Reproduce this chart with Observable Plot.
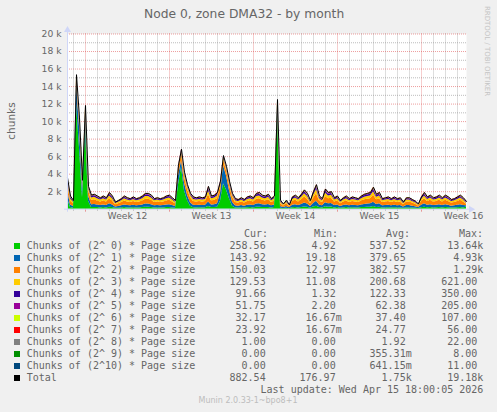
<!DOCTYPE html>
<html><head><meta charset="utf-8">
<script src="https://cdn.jsdelivr.net/npm/d3@7"></script>
<script src="https://cdn.jsdelivr.net/npm/@observablehq/plot@0.6"></script>
<style>
html,body{margin:0;padding:0;background:#f0f0f0;}
#page{position:relative;width:497px;height:412px;overflow:hidden;background:#f0f0f0;font-family:"DejaVu Sans",sans-serif;color:#666;}
.abs{position:absolute;white-space:pre;}
.mono{font-family:"DejaVu Sans Mono",monospace;font-size:10px;line-height:12px;}
#chart{position:absolute;left:0;top:0;}
</style></head><body><div id="page"><div id="chart"></div></div>
<script>
// ---- data: 6-hourly samples, 13 Mar 2026 12:00 UTC .. 15 Apr 2026 18:00 UTC ----
const chunks0 = [1200,180,120,12000,7000,1300,9200,900,190,200,
180,150,180,150,230,180,100,120,140,180,
150,140,170,140,150,180,220,220,190,140,
150,140,150,180,190,150,120,2800,4800,2100,
1000,350,170,150,170,150,170,310,180,190,
230,900,2900,2200,1200,350,140,130,150,130,
170,180,150,220,230,190,180,200,140,180,
10800,120,70,120,60,170,190,150,200,260,
220,120,240,340,180,140,280,230,240,150,
180,120,150,180,140,170,150,140,180,200,
220,230,300,200,230,140,150,170,140,170,
140,150,100,150,150,130,110,70,170,230,
170,190,150,170,190,150,190,170,130,140,
170,190,150,259];
const chunks1 = [1000,300,200,2300,2400,1000,1600,600,320,340,
300,260,300,260,380,300,160,200,240,300,
260,240,280,240,260,300,360,360,320,240,
260,240,260,300,320,260,200,1000,700,900,
600,400,280,260,280,260,280,520,300,320,
380,900,2100,1600,900,450,240,220,260,220,
280,300,260,360,380,320,300,340,240,300,
800,200,120,200,100,280,320,260,340,440,
360,200,400,560,300,240,460,380,400,260,
300,200,260,300,240,280,260,240,300,340,
360,380,500,340,380,240,260,280,240,280,
240,260,160,260,260,220,180,120,280,380,
280,320,260,280,320,260,320,280,220,240,
280,320,260,144];
const chunks2 = [800,470,310,500,500,500,550,600,500,530,
470,410,470,410,590,470,250,310,380,470,
410,380,440,380,410,470,560,560,500,380,
410,380,410,470,500,410,310,650,750,700,
650,550,440,410,440,410,440,810,470,500,
590,800,650,600,600,550,380,350,410,350,
440,470,410,560,590,500,470,530,380,470,
450,310,180,310,150,440,500,410,530,690,
560,310,620,870,470,380,720,590,620,410,
470,310,410,470,380,440,410,380,470,530,
560,590,780,530,590,380,410,440,380,440,
380,410,250,410,410,350,280,180,440,590,
440,500,410,440,500,410,500,440,350,380,
440,500,410,150];
const chunks3 = [300,250,170,250,250,250,250,280,270,290,
250,220,250,220,320,250,140,170,200,250,
220,200,230,200,220,250,300,300,270,200,
220,200,220,250,270,220,170,280,300,280,
300,280,230,220,230,220,230,440,250,270,
320,300,250,250,260,250,200,180,220,180,
230,250,220,300,320,270,250,290,200,250,
220,170,110,170,90,230,270,220,290,370,
300,170,340,470,250,200,380,320,340,220,
250,170,220,250,200,230,220,200,250,290,
300,320,420,290,320,200,220,230,200,230,
200,220,140,220,220,180,160,110,230,320,
230,270,220,230,270,220,270,230,180,200,
230,270,220,130];
const chunks4 = [150,150,100,130,120,120,110,120,160,170,
150,130,150,130,190,150,80,100,120,150,
130,120,140,120,130,150,180,180,160,120,
130,120,130,150,160,130,100,130,140,130,
130,130,140,130,140,130,140,260,150,160,
190,150,110,120,120,110,120,110,130,110,
140,150,130,180,190,160,150,170,120,150,
120,100,60,100,50,140,160,130,170,220,
180,100,200,280,150,120,230,190,200,130,
150,100,130,150,120,140,130,120,150,170,
180,190,250,170,190,120,130,140,120,140,
120,130,80,130,130,110,90,60,140,190,
140,160,130,140,160,130,160,140,110,120,
140,160,130,92];
const chunks5 = [80,75,50,70,60,60,55,60,80,85,
75,65,75,65,95,75,40,50,60,75,
65,60,70,60,65,75,90,90,80,60,
65,60,65,75,80,65,50,70,70,60,
60,60,70,65,70,65,70,130,75,80,
95,70,50,60,60,50,60,55,65,55,
70,75,65,90,95,80,75,85,60,75,
60,50,30,50,25,70,80,65,85,110,
90,50,100,140,75,60,115,95,100,65,
75,50,65,75,60,70,65,60,75,85,
90,95,125,85,95,60,65,70,60,70,
60,65,40,65,65,55,45,30,70,95,
70,80,65,70,80,65,80,70,55,60,
70,80,65,52];
const chunks6 = [40,45,30,40,35,40,35,30,48,50,
45,38,45,38,56,45,18,30,35,45,
38,35,40,35,38,45,53,53,48,35,
38,35,38,45,48,38,30,40,40,30,
35,30,40,38,40,38,40,78,45,48,
56,40,30,40,35,30,35,33,38,33,
40,45,38,53,56,48,45,50,35,45,
30,30,18,30,15,40,48,38,50,65,
53,30,60,84,45,35,68,56,60,38,
45,30,38,45,35,40,38,35,45,50,
53,56,75,50,56,35,38,40,35,40,
35,38,18,38,38,33,20,18,40,56,
40,48,38,40,48,38,48,40,33,35,
40,48,38,32];
const chunks7 = [30,30,20,25,25,25,20,20,32,35,
30,27,30,27,39,30,12,20,25,30,
27,25,30,25,27,30,37,37,32,25,
27,25,27,30,32,27,20,30,30,25,
25,20,30,27,30,27,30,52,30,32,
39,30,20,25,25,20,25,22,27,22,
30,30,27,37,39,32,30,35,25,30,
20,20,12,20,10,30,32,27,35,45,
37,20,40,56,30,25,47,39,40,27,
30,20,27,30,25,30,27,25,30,35,
37,39,50,35,39,25,27,30,25,30,
25,27,12,27,27,22,15,12,30,39,
30,32,27,30,32,27,32,30,22,25,
30,32,27,24];
const chunks8 = [4,2,1,22,15,6,12,3,2,2,
2,1,2,1,3,2,1,1,1,2,
1,1,2,1,1,2,3,3,2,1,
1,1,1,2,2,1,1,6,8,4,
3,2,1,1,2,1,1,4,2,2,
3,5,9,6,4,2,1,1,1,1,
2,2,1,3,3,2,2,2,1,2,
14,1,0,1,0,2,2,1,2,3,
2,1,3,4,2,1,3,2,3,1,
2,1,1,2,1,2,1,1,2,2,
2,3,4,2,3,1,1,2,1,2,
1,1,0,1,1,1,1,0,2,3,
2,2,1,2,2,1,2,2,1,1,
2,2,1,1];
const chunks9 = [0,0,0,8,4,1,5,1,0,0,
0,0,0,0,0,0,0,0,0,0,
0,0,0,0,0,0,0,0,0,0,
0,0,0,0,0,0,0,1,2,1,
0,0,0,0,0,0,0,0,0,0,
0,1,2,1,0,0,0,0,0,0,
0,0,0,0,0,0,0,0,0,0,
3,0,0,0,0,0,0,0,0,0,
0,0,0,0,0,0,0,0,0,0,
0,0,0,0,0,0,0,0,0,0,
0,0,0,0,0,0,0,0,0,0,
0,0,0,0,0,0,0,0,0,0,
0,0,0,0,0,0,0,0,0,0,
0,0,0,0];
const chunks10 = [1,0,0,11,6,1,4,1,0,0,
0,0,0,0,0,0,0,0,0,0,
0,0,0,0,0,0,0,0,0,0,
0,0,0,0,0,0,0,1,3,1,
0,0,0,0,0,0,0,0,0,0,
0,1,2,1,0,0,0,0,0,0,
0,0,0,0,0,0,0,0,0,0,
4,0,0,0,0,0,0,0,0,0,
0,0,0,0,0,0,0,0,0,0,
0,0,0,0,0,0,0,0,0,0,
0,0,0,0,0,0,0,0,0,0,
0,0,0,0,0,0,0,0,0,0,
0,0,0,0,0,0,0,0,0,0,
0,0,0,0];

const seriesNames = ["Chunks of (2^ 0) * Page size","Chunks of (2^ 1) * Page size","Chunks of (2^ 2) * Page size",
  "Chunks of (2^ 3) * Page size","Chunks of (2^ 4) * Page size","Chunks of (2^ 5) * Page size",
  "Chunks of (2^ 6) * Page size","Chunks of (2^ 7) * Page size","Chunks of (2^ 8) * Page size",
  "Chunks of (2^ 9) * Page size","Chunks of (2^10) * Page size"];
const seriesColors = ["#00CC00","#0066B3","#FF8000","#FFCC00","#330099","#990099","#CCFF00","#FF0000","#808080","#008F00","#00487D"];
const totalName = "Total";
const totalColor = "#000000";

const curText = ["258.56 ","143.92 ","150.03 ","129.53 "," 91.66 "," 51.75 "," 32.17 "," 23.92 ","  1.00 ","  0.00 ","  0.00 ","882.54 "];
const minText = ["  4.92 "," 19.18 "," 12.97 "," 11.08 ","  1.32 ","  2.20 "," 16.67m"," 16.67m","  0.00 ","  0.00 ","  0.00 ","176.97 "];
const avgText = ["537.52 ","379.65 ","382.57 ","200.68 ","122.33 "," 62.38 "," 37.40 "," 24.77 ","  1.92 ","355.31m","641.15m","  1.75k"];
const maxText = [" 13.64k","  4.93k","  1.29k","621.00 ","350.00 ","205.00 ","107.00 "," 56.00 "," 22.00 ","  8.00 "," 11.00 "," 19.18k"];
const headerText = ["Cur:","Min:","Avg:","Max:"];

const yTicks = [2000,4000,6000,8000,10000,12000,14000,16000,18000,20000];
const yMinor = [1000,3000,5000,7000,9000,11000,13000,15000,17000,19000];
const weekLabels = ["Week 12","Week 13","Week 14","Week 15","Week 16"];

const titleText = "Node 0, zone DMA32 - by month";
const yLabelText = "chunks";
const lastUpdateText = "Last update: Wed Apr 15 18:00:05 2026";
const versionText = "Munin 2.0.33-1~bpo8+1";
const creditText = "RRDTOOL / TOBI OETIKER";

// ---- build ----
const seriesValues = [chunks0,chunks1,chunks2,chunks3,chunks4,chunks5,chunks6,chunks7,chunks8,chunks9,chunks10];
const T0 = Date.UTC(2026, 2, 13, 12);
const STEP = 6 * 3600e3;
const DAY = 864e5;
const N = chunks0.length;
const times = Array.from({length: N}, (_, i) => new Date(T0 + i * STEP));
const TEND = new Date(T0 + (N - 1) * STEP);

const rows = [];
seriesValues.forEach((vals, k) => vals.forEach((v, i) => rows.push({t: times[i], v, s: seriesNames[k]})));
const totals = times.map((t, i) => ({t, v: d3.sum(seriesValues, s => s[i])}));

const days = d3.utcDay.range(new Date(T0), TEND);
const weekStarts = days.filter(d => d.getUTCDay() === 0);
const minorDays = days.filter(d => d.getUTCDay() !== 0);
const weekMid = weekStarts.map(d => new Date(+d + 3.5 * DAY));

const H = 225, PLOT_TOP = 33.5, PLOT_BOTTOM = 208.7, LEFT = 67, RIGHT = 466;
const pxPerMs = (RIGHT - LEFT) / (+TEND - T0);
const tAt = px => new Date(T0 + (px - LEFT) / pxPerMs);
const vAt = py => (PLOT_BOTTOM - py) / (PLOT_BOTTOM - PLOT_TOP) * 20000;

const AXIS = "#CFD6F8";
const GRID = "rgba(143,143,143,0.6)";
const MGRID = "rgba(222,79,79,0.55)";

const chart = Plot.plot({
  width: 497, height: H,
  marginLeft: LEFT, marginRight: 497 - RIGHT, marginTop: PLOT_TOP, marginBottom: H - PLOT_BOTTOM,
  x: {type: "utc", domain: [new Date(T0), TEND]},
  y: {domain: [0, 20000]},
  color: {domain: seriesNames, range: seriesColors},
  style: {background: "transparent", fontFamily: "DejaVu Sans", overflow: "visible"},
  marks: [
    Plot.frame({fill: "white", stroke: "none"}),
    Plot.ruleY(yMinor, {stroke: GRID, strokeDasharray: "1,1"}),
    Plot.ruleX(minorDays, {stroke: GRID, strokeDasharray: "1,1"}),
    Plot.ruleY(yTicks, {stroke: MGRID, strokeDasharray: "1,1"}),
    Plot.ruleX(weekStarts, {stroke: MGRID, strokeDasharray: "1,1"}),
    Plot.areaY(rows, {x: "t", y: "v", z: "s", fill: "s"}),
    Plot.lineY(totals, {x: "t", y: "v", stroke: totalColor, strokeWidth: 1}),
    Plot.ruleX(minorDays, {y1: 0, y2: vAt(PLOT_BOTTOM + 2), stroke: GRID}),
    Plot.ruleX(weekStarts, {y1: 0, y2: vAt(PLOT_BOTTOM + 3), stroke: MGRID}),
    Plot.ruleX([new Date(T0)], {y1: vAt(PLOT_BOTTOM + 3), y2: vAt(28), stroke: AXIS}),
    Plot.ruleY([0], {x1: tAt(LEFT - 3), x2: tAt(469), stroke: AXIS}),
    Plot.dot([{t: new Date(T0), v: vAt(29.5)}], {x: "t", y: "v", symbol: "triangle", r: 2.6, fill: AXIS, stroke: "none"}),
    Plot.dot([{t: tAt(470.5), v: 0}], {x: "t", y: "v", symbol: "triangle", r: 2.6, rotate: 90, fill: AXIS, stroke: "none"}),
    Plot.axisY(yTicks, {tickSize: 0, tickPadding: 6, tickFormat: d => `${d / 1000} k`, fontSize: 9.2, fill: "#666", label: null}),
    Plot.axisX(weekMid, {tickSize: 0, tickPadding: 3, tickFormat: d => weekLabels[weekMid.findIndex(w => +w === +d)], fontSize: 9.2, fill: "#666", label: null})
  ]
});
document.getElementById("chart").appendChild(chart);

// ---- text outside the plot ----
const page = document.getElementById("page");
function addText(txt, css, cls) {
  const d = document.createElement("div");
  d.className = "abs" + (cls ? " " + cls : "");
  d.textContent = txt;
  Object.assign(d.style, css);
  page.appendChild(d);
  return d;
}
addText(titleText, {left: "144px", top: "7px", fontSize: "12.3px", lineHeight: "14.3px", color: "#666"});
addText(yLabelText, {left: "-19px", top: "115px", width: "60px", height: "12px", lineHeight: "12px", textAlign: "center", fontSize: "10.5px", color: "#666", transform: "rotate(-90deg)"});
addText(creditText, {left: "437px", top: "46px", width: "100px", height: "10px", lineHeight: "10px", textAlign: "center", fontSize: "7px", color: "#c4c4c4", transform: "rotate(90deg)"});

// legend
const ROW0 = 239.5, ROWH = 12;
const headerLeft = [244, 314, 386, 459];
headerText.forEach((h, j) => addText(h, {left: headerLeft[j] + "px", top: (ROW0 - ROWH) + "px"}, "mono"));
const legendNames = seriesNames.concat([totalName]);
const legendColors = seriesColors.concat([totalColor]);
const colRight = [271.7, 341.7, 411.7, 483.3];
legendNames.forEach((name, k) => {
  const top = ROW0 + k * ROWH;
  const sq = document.createElement("div");
  Object.assign(sq.style, {position: "absolute", left: "14px", top: (top + 3) + "px", width: "6px", height: "6px", background: legendColors[k]});
  page.appendChild(sq);
  addText(name, {left: "26.7px", top: top + "px"}, "mono");
  [curText, minText, avgText, maxText].forEach((arr, j) => {
    addText(arr[k], {left: (colRight[j] - 60) + "px", width: "60px", textAlign: "right", top: top + "px"}, "mono");
  });
});
addText(lastUpdateText, {left: (483.3 - 260) + "px", width: "260px", textAlign: "right", top: (ROW0 + 12 * ROWH) + "px"}, "mono");
addText(versionText, {left: "148px", width: "200px", textAlign: "center", top: "396px", fontSize: "8px", lineHeight: "10px", color: "#bdbdbd"});
</script></body></html>
